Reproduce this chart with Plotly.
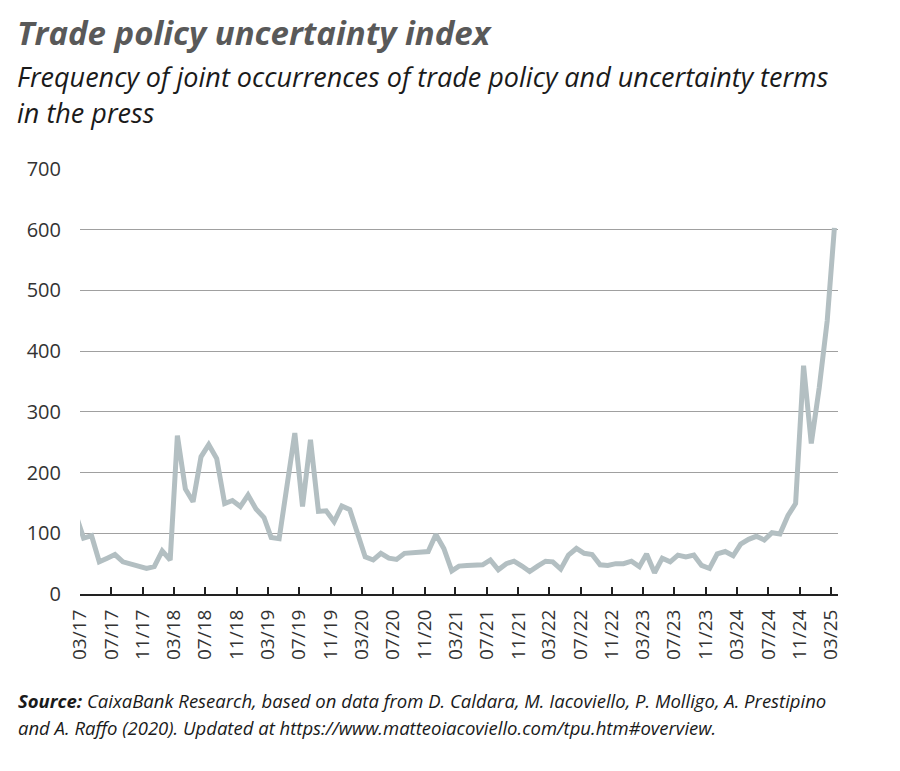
import pandas as pd
import plotly.graph_objects as go

# monthly index values, Feb 2017 -> Mar 2025
tpu = [
    128, 92, 96, 53, 59, 65, 53, 49, 46, 42, 45, 71,
    56, 261, 173, 152, 226, 246, 223, 149, 154, 144, 163, 140,
    126, 93, 91, 178, 265, 144, 254, 136, 137, 119, 145, 139,
    97, 61, 56, 67, 59, 57, 67, 68, 71, 70, 98, 75,
    38, 46, 47, 48, 48, 56, 40, 50, 54, 46, 37, 46,
    54, 53, 41, 64, 75, 67, 65, 48, 47, 50, 50, 54,
    45, 66, 35, 59, 53, 64, 61, 64, 47, 42, 66, 70,
    63, 82, 90, 95, 89, 101, 99, 129, 149, 376, 248, 340,
    450, 603,
]
months = pd.date_range("2017-02-01", periods=len(tpu), freq="MS") + pd.Timedelta(days=14)

title = "Trade policy uncertainty index"
subtitle = ["Frequency of joint occurrences of trade policy and uncertainty terms",
            "in the press"]
source = ["<b>Source:</b> CaixaBank Research, based on data from D. Caldara, M. Iacoviello, P. Molligo, A. Prestipino",
          "and A. Raffo (2020). Updated at https://www.matteoiacoviello.com/tpu.htm#overview."]

FONT = "Open Sans"

fig = go.Figure()
fig.add_trace(go.Scatter(
    x=months, y=tpu, mode="lines",
    line=dict(color="#b3bfc2", width=5),
    hoverinfo="x+y",
))

# page is drawn with an 8px offset, so everything is shifted up/left by 8
OFF = 8
W, H = 900, 771
L, T = 80 - OFF, 169 - OFF
pw, ph = 758, 425
R, B = W - L - pw, H - T - ph

def px(x):
    return (x - OFF - L) / pw

def py(y):
    return (T + ph - (y - OFF)) / ph

ann = [
    dict(text=f"<b><i>{title}</i></b>", x=px(15), y=py(33),
         font=dict(size=33, color="#595959", family=FONT)),
    dict(text=f"<i>{subtitle[0]}</i>", x=px(15), y=py(77),
         font=dict(size=27, color="#1a1a1a", family=FONT)),
    dict(text=f"<i>{subtitle[1]}</i>", x=px(15), y=py(112),
         font=dict(size=27, color="#1a1a1a", family=FONT)),
    dict(text=f"<i>{source[0]}</i>", x=px(16), y=py(700),
         font=dict(size=18.5, color="#1a1a1a", family=FONT)),
    dict(text=f"<i>{source[1]}</i>", x=px(16), y=py(727),
         font=dict(size=18.5, color="#1a1a1a", family=FONT)),
]
for a in ann:
    fig.add_annotation(xref="paper", yref="paper", xanchor="left", yanchor="middle",
                       showarrow=False, **a)

fig.update_layout(
    width=W, height=H,
    margin=dict(l=L, r=R, t=T, b=B),
    paper_bgcolor="white", plot_bgcolor="white",
    showlegend=False,
    font=dict(family=FONT, color="#333333"),
)
fig.update_xaxes(
    type="date",
    range=["2017-03-01", "2025-03-29"],
    tick0="2017-03-01", dtick="M4", tickformat="%m/%y",
    tickangle=-90, tickfont=dict(size=19, color="#333333"),
    ticks="inside", ticklen=7, tickwidth=1.5, tickcolor="#222222",
    showline=True, linecolor="#222222", linewidth=2,
    showgrid=False, zeroline=False,
    ticklabelstandoff=6,
)
fig.update_yaxes(
    range=[0, 700], dtick=100,
    tickfont=dict(size=20, color="#333333"),
    showgrid=True, gridcolor="#a0a0a0", gridwidth=1,
    zeroline=False, showline=False,
    ticklabelstandoff=18,
)

fig.write_html("out.html")
